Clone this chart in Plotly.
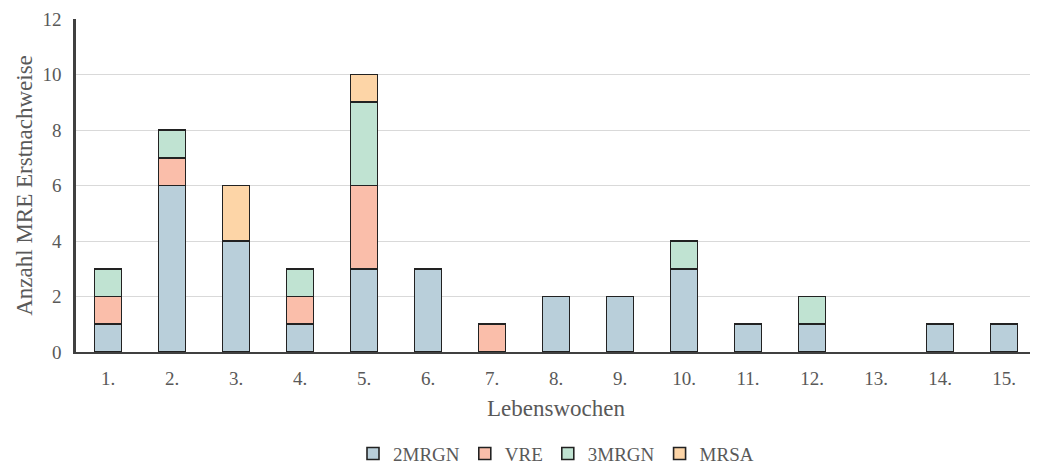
import plotly.graph_objects as go

weeks = ["1.", "2.", "3.", "4.", "5.", "6.", "7.", "8.", "9.", "10.", "11.", "12.", "13.", "14.", "15."]
mrgn2 = [1, 6, 4, 1, 3, 3, 0, 2, 2, 3, 1, 1, 0, 1, 1]
vre   = [1, 1, 0, 1, 3, 0, 1, 0, 0, 0, 0, 0, 0, 0, 0]
mrgn3 = [1, 1, 0, 1, 3, 0, 0, 0, 0, 1, 0, 1, 0, 0, 0]
mrsa  = [0, 0, 2, 0, 1, 0, 0, 0, 0, 0, 0, 0, 0, 0, 0]

series = [
    ("2MRGN", mrgn2, "#B9CFDA"),
    ("VRE", vre, "#FABEAA"),
    ("3MRGN", mrgn3, "#C0E3D2"),
    ("MRSA", mrsa, "#FDD5A7"),
]

fig = go.Figure()
for name, vals, col in series:
    fig.add_trace(go.Bar(
        x=weeks, y=[v if v else None for v in vals], name=name,
        marker=dict(color=col, line=dict(color="#222222", width=1.6)),
        width=0.42,
    ))

font = "Liberation Serif, Times New Roman, serif"
fig.update_layout(
    barmode="stack",
    width=1030, height=457,
    margin=dict(l=68, r=2, t=11, b=113, autoexpand=False),
    paper_bgcolor="white", plot_bgcolor="white",
    font=dict(family=font, size=20, color="#595959"),
    showlegend=True,
    legend=dict(orientation="h", x=0.5, xanchor="center",
                yref="container", y=0.025, yanchor="middle",
                font=dict(size=19, color="#595959"), traceorder="normal"),
    xaxis=dict(
        title=dict(text="Lebenswochen", font=dict(size=23), standoff=12),
        showline=True, linecolor="#404040", linewidth=2,
        ticks="", tickfont=dict(size=19), ticklabelstandoff=8, automargin=False,
        ticklabeloverflow="allow",
    ),
    yaxis=dict(
        title=dict(text="Anzahl MRE Erstnachweise", font=dict(size=23), standoff=4),
        range=[0, 12], dtick=2,
        showline=True, linecolor="#404040", linewidth=2.5,
        showgrid=True, gridcolor="#D9D9D9", gridwidth=1,
        zeroline=False, ticks="", tickfont=dict(size=19), ticklabelstandoff=8,
        automargin=False, ticklabeloverflow="allow",
    ),
)
fig.write_html("out.html")
